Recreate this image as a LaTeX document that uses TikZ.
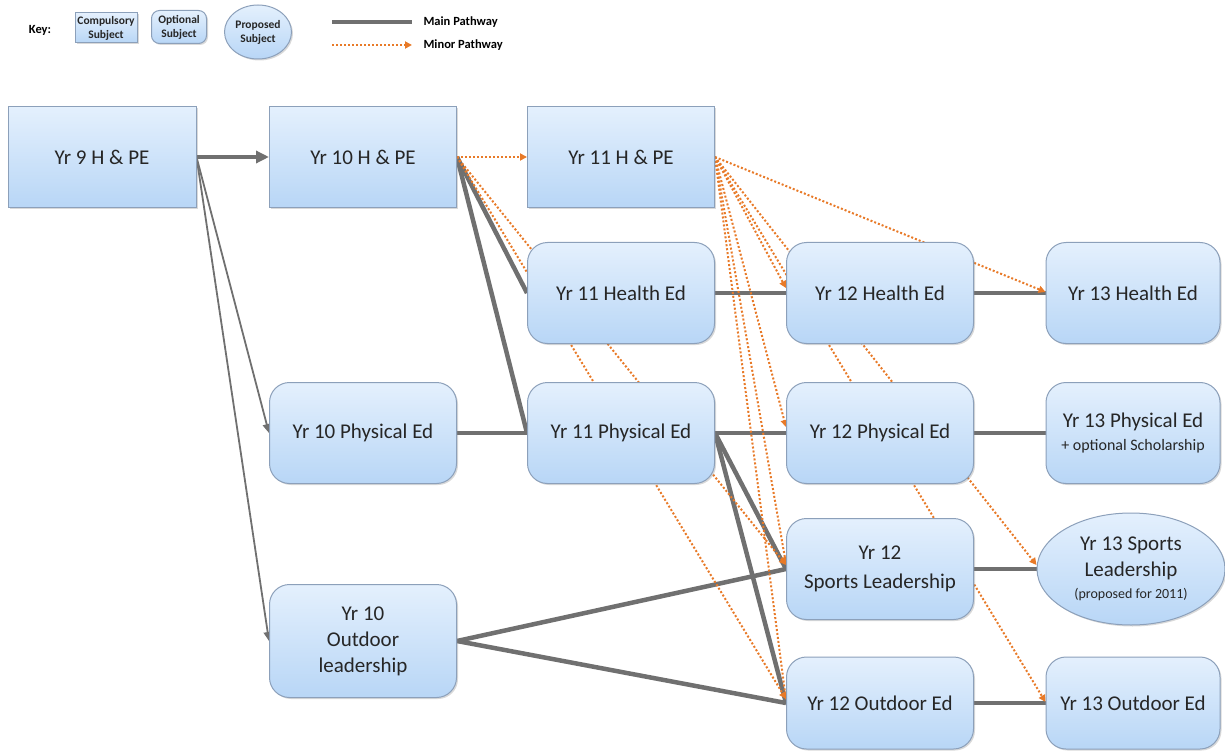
\documentclass[tikz,border=0pt]{standalone}
\usepackage{fontspec}
\setmainfont{Carlito}
\usetikzlibrary{shapes.geometric,shadows,backgrounds,arrows.meta}
\definecolor{boxtop}{RGB}{228,240,253}
\definecolor{boxbot}{RGB}{184,214,246}
\definecolor{boxline}{RGB}{140,160,186}
\definecolor{maingray}{RGB}{112,112,112}
\definecolor{minororange}{RGB}{232,122,40}
\begin{document}
\begin{tikzpicture}[x=1pt, y=-1pt,
    subject/.style={draw=boxline, line width=1pt, top color=boxtop, bottom color=boxbot,
      text=black!85, inner sep=0pt, align=center,
      drop shadow={shadow xshift=1.5pt, shadow yshift=-1.5pt, opacity=0.3},
      font=\fontsize{21}{26}\selectfont},
    compulsory/.style={subject, rectangle},
    optional/.style={subject, rectangle, rounded corners=20pt},
    proposed/.style={subject, ellipse},
    box/.style={minimum width=187pt, minimum height=101pt},
    lastbox/.style={minimum width=174pt, minimum height=101pt},
    keytext/.style={font=\fontsize{11.5}{14}\selectfont\bfseries},
    mainpath/.style={draw=maingray, line width=4.5pt},
    thinpath/.style={draw=maingray, line width=1.8pt, -{Triangle[length=9pt,width=8pt]}},
    minorpath/.style={draw=minororange, line width=2pt, dash pattern=on 2pt off 2pt,
      -{Triangle[length=7pt,width=7pt]}}]
  \useasboundingbox (0,0) rectangle (1225,751);

  \node[font=\fontsize{12.5}{15}\selectfont\bfseries] (key) at (40,30) {Key:};
  \node[compulsory, keytext, minimum width=62pt, minimum height=30pt] (keyc) at (106,28) {Compulsory\\Subject};
  \node[optional, keytext, rounded corners=8pt, minimum width=55pt, minimum height=33pt] (keyo) at (179,27) {Optional\\Subject};
  \node[proposed, keytext, minimum width=67pt, minimum height=54pt] (keyp) at (258,32) {Proposed\\Subject};
  \coordinate (keymain) at (332,22);
  \coordinate (keyminor) at (332,45);
  \node[anchor=west, font=\fontsize{12.5}{15}\selectfont\bfseries] (mainlbl) at (420,22) {Main Pathway};
  \node[anchor=west, font=\fontsize{12.5}{15}\selectfont\bfseries] (minorlbl) at (420,45) {Minor Pathway};
  \draw[mainpath, line width=3.5pt] (keymain) -- ([xshift=-8pt]mainlbl.west);
  \draw[minorpath] (keyminor) -- ([xshift=-8pt]minorlbl.west);

  \node[compulsory, box, minimum width=188pt] (y9) at (102,157) {Yr 9 H \& PE};
  \node[compulsory, box] (y10) at (363,157) {Yr 10 H \& PE};
  \node[compulsory, box] (y11) at (621,157) {Yr 11 H \& PE};
  \node[optional, box] (y10p) at (363,433) {Yr 10 Physical Ed};
  \node[optional, box, minimum height=113pt] (y10o) at (363,641) {Yr 10\\Outdoor\\leadership};
  \node[optional, box] (y11h) at (621,293) {Yr 11 Health Ed};
  \node[optional, box] (y11p) at (621,433) {Yr 11 Physical Ed};
  \node[optional, box] (y12h) at (880,293) {Yr 12 Health Ed};
  \node[optional, box] (y12p) at (880,433) {Yr 12 Physical Ed};
  \node[optional, box] (y12s) at (880,569) {Yr 12\\[3pt]Sports Leadership};
  \node[optional, box, minimum height=92pt] (y12o) at (880,703) {Yr 12 Outdoor Ed};
  \node[optional, lastbox] (y13h) at (1133,293) {Yr 13 Health Ed};
  \node[optional, lastbox] (y13p) at (1133,433) {Yr 13 Physical Ed\\[-3pt]{\fontsize{16}{18}\selectfont + optional Scholarship}};
  \node[proposed, minimum width=188pt, minimum height=112pt] (y13s) at (1131,569) {Yr 13 Sports\\Leadership\\[-4pt]{\fontsize{14}{16}\selectfont (proposed for 2011)}};
  \node[optional, lastbox, minimum height=92pt] (y13o) at (1133,703) {Yr 13 Outdoor Ed};

  \begin{scope}[on background layer]
    \draw[mainpath, -{Triangle[length=13pt,width=12pt]}] (y9.east) -- (y10.west);
    \foreach \b in {y10p, y10o}
      \draw[thinpath] (y9.east) -- (\b.west);
    \foreach \a/\b in {y10/y11h, y10/y11p, y10p/y11p, y11h/y12h, y11p/y12p, y11p/y12s,
        y11p/y12o, y10o/y12s, y10o/y12o, y12h/y13h, y12p/y13p, y12s/y13s, y12o/y13o}
      \draw[mainpath] (\a.east) -- (\b.west);
    \foreach \a/\b/\s in {y10/y11/0, y10/y12s/4, y10/y12o/4, y11/y12h/5, y11/y12p/6,
        y11/y12s/5, y11/y12o/3, y11/y13h/1, y11/y13s/4, y11/y13o/1}
      \draw[minorpath] (\a.east) -- ([yshift=\s pt]\b.west);
  \end{scope}
\end{tikzpicture}
\end{document}
